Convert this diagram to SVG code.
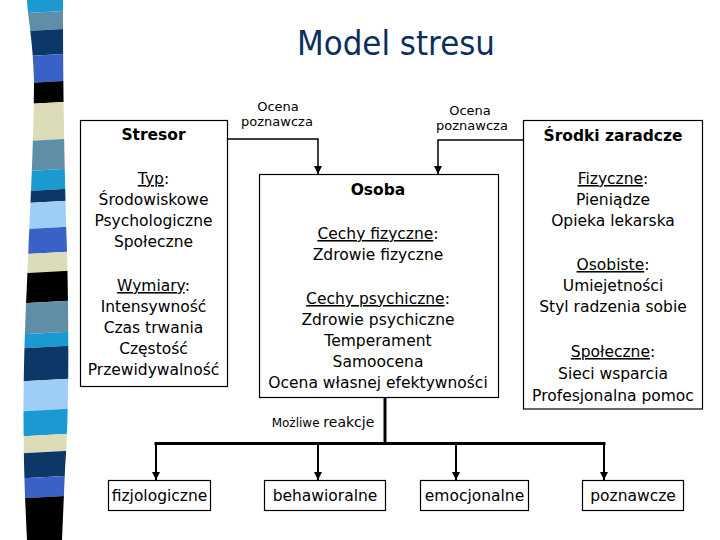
<svg xmlns="http://www.w3.org/2000/svg" width="720" height="540" viewBox="0 0 720 540">
<style>
.box{fill:#fff;stroke:#000;stroke-width:1.2}
.t{font-family:"DejaVu Sans","Liberation Sans",sans-serif;font-size:15.5px;fill:#000;text-anchor:middle}
.b{font-weight:bold}
.s{font-family:"DejaVu Sans","Liberation Sans",sans-serif;font-size:13px;fill:#000;text-anchor:middle}
.u{text-decoration:underline}
.ln{fill:none;stroke:#000}
</style>
<defs>
<clipPath id="band">
<path d="M27,0 L63,0 C63,80 64,150 67,250 C69,330 69,420 65,470 L62,540 L27,540 C24,480 22,420 25,330 C28,250 34,150 34,80 C33,40 28,20 27,0 Z"/>
</clipPath>
<marker id="ah" markerUnits="userSpaceOnUse" markerWidth="8" markerHeight="8" refX="8" refY="4" orient="auto">
<path d="M0,0 L8,4 L0,8 Z" fill="#000"/>
</marker>
</defs>
<rect width="720" height="540" fill="#fff"/>
<g id="stripes" clip-path="url(#band)">
<polygon fill="#1a9ad0" points="20,-5 72,-5 72,10.5 20,13.5"/>
<polygon fill="#5f8fa6" points="20,13.5 72,10.5 72,28.5 20,31.5"/>
<polygon fill="#0c3868" points="20,31.5 72,28.5 72,53.5 20,56.5"/>
<polygon fill="#3a62c6" points="20,56.5 72,53.5 72,80.5 20,83.5"/>
<polygon fill="#000000" points="20,83.5 72,80.5 72,101.5 20,104.5"/>
<polygon fill="#dcdcb8" points="20,104.5 72,101.5 72,138.5 20,141.5"/>
<polygon fill="#5f8fa6" points="20,141.5 72,138.5 72,168.5 20,171.5"/>
<polygon fill="#1a9ad0" points="20,171.5 72,168.5 72,188.5 20,191.5"/>
<polygon fill="#0c3868" points="20,191.5 72,188.5 72,200.5 20,203.5"/>
<polygon fill="#9ecdf5" points="20,203.5 72,200.5 72,226.5 20,229.5"/>
<polygon fill="#3a62c6" points="20,229.5 72,226.5 72,251.5 20,254.5"/>
<polygon fill="#dcdcb8" points="20,254.5 72,251.5 72,270.5 20,273.5"/>
<polygon fill="#000000" points="20,273.5 72,270.5 72,300.5 20,303.5"/>
<polygon fill="#5f8fa6" points="20,303.5 72,300.5 72,331.5 20,334.5"/>
<polygon fill="#1a9ad0" points="20,334.5 72,331.5 72,345.5 20,348.5"/>
<polygon fill="#0c3868" points="20,348.5 72,345.5 72,378.5 20,381.5"/>
<polygon fill="#9ecdf5" points="20,381.5 72,378.5 72,408.5 20,411.5"/>
<polygon fill="#1a9ad0" points="20,411.5 72,408.5 72,433.5 20,436.5"/>
<polygon fill="#dcdcb8" points="20,436.5 72,433.5 72,450.5 20,453.5"/>
<polygon fill="#0c3868" points="20,453.5 72,450.5 72,475.5 20,478.5"/>
<polygon fill="#3a62c6" points="20,478.5 72,475.5 72,495.5 20,498.5"/>
<polygon fill="#000000" points="20,498.5 72,495.5 72,545 20,545"/>
</g>
<text id="title" x="396" y="55" font-family="DejaVu Sans, Liberation Sans, sans-serif" font-size="34" fill="#0b2f5e" text-anchor="middle" textLength="198" lengthAdjust="spacingAndGlyphs">Model stresu</text>
<g id="connectors">
<path class="ln" stroke-width="1.5" d="M227,139 H318 V174" marker-end="url(#ah)"/>
<path class="ln" stroke-width="1.5" d="M523,140 H438 V174" marker-end="url(#ah)"/>
<path class="ln" stroke-width="3" d="M385,397 V444"/>
<path class="ln" stroke-width="3" d="M154.5,443.5 H605.5"/>
<path class="ln" stroke-width="2" d="M156,444 V480" marker-end="url(#ah)"/>
<path class="ln" stroke-width="2" d="M318,444 V480" marker-end="url(#ah)"/>
<path class="ln" stroke-width="2" d="M456,444 V480" marker-end="url(#ah)"/>
<path class="ln" stroke-width="2" d="M604,444 V480" marker-end="url(#ah)"/>
<text class="s" x="278" y="111">Ocena</text>
<text class="s" x="277" y="126">poznawcza</text>
<text class="s" x="470" y="115">Ocena</text>
<text class="s" x="472" y="130">poznawcza</text>
<text class="s" x="323" y="427"><tspan font-size="12">Możliwe </tspan><tspan font-size="14">reakcje</tspan></text>
</g>
<g id="stresor">
<rect class="box" x="80.5" y="120.5" width="147" height="266"/>
<text class="t b" x="153.5" y="140">Stresor</text>
<text class="t" x="153.5" y="184"><tspan class="u">Typ</tspan>:</text>
<text class="t" x="153.5" y="205">Środowiskowe</text>
<text class="t" x="153.5" y="226">Psychologiczne</text>
<text class="t" x="153.5" y="247">Społeczne</text>
<text class="t" x="153.5" y="291"><tspan class="u">Wymiary</tspan>:</text>
<text class="t" x="153.5" y="312">Intensywność</text>
<text class="t" x="153.5" y="333">Czas trwania</text>
<text class="t" x="153.5" y="354">Częstość</text>
<text class="t" x="153.5" y="375">Przewidywalność</text>
</g>
<g id="osoba">
<rect class="box" x="259.5" y="174.5" width="239" height="223"/>
<text class="t b" x="378" y="195">Osoba</text>
<text class="t" x="378" y="239"><tspan class="u">Cechy fizyczne</tspan>:</text>
<text class="t" x="378" y="260">Zdrowie fizyczne</text>
<text class="t" x="378" y="304"><tspan class="u">Cechy psychiczne</tspan>:</text>
<text class="t" x="378" y="325">Zdrowie psychiczne</text>
<text class="t" x="378" y="346">Temperament</text>
<text class="t" x="378" y="367">Samoocena</text>
<text class="t" x="378" y="388">Ocena własnej efektywności</text>
</g>
<g id="srodki">
<rect class="box" x="523.5" y="120.5" width="179" height="288.5"/>
<text class="t b" x="613" y="141">Środki zaradcze</text>
<text class="t" x="613" y="184"><tspan class="u">Fizyczne</tspan>:</text>
<text class="t" x="613" y="205">Pieniądze</text>
<text class="t" x="613" y="226">Opieka lekarska</text>
<text class="t" x="613" y="270"><tspan class="u">Osobiste</tspan>:</text>
<text class="t" x="613" y="291">Umiejetności</text>
<text class="t" x="613" y="312">Styl radzenia sobie</text>
<text class="t" x="613" y="357"><tspan class="u">Społeczne</tspan>:</text>
<text class="t" x="613" y="379">Sieci wsparcia</text>
<text class="t" x="613" y="401">Profesjonalna pomoc</text>
</g>
<g id="fizjologiczne">
<rect class="box" x="108.5" y="480.5" width="102" height="30"/>
<text class="t" x="159.5" y="501">fizjologiczne</text>
</g>
<g id="behawioralne">
<rect class="box" x="264.5" y="480.5" width="121" height="30"/>
<text class="t" x="325" y="501">behawioralne</text>
</g>
<g id="emocjonalne">
<rect class="box" x="420.5" y="480.5" width="108" height="30"/>
<text class="t" x="474.5" y="501">emocjonalne</text>
</g>
<g id="poznawcze">
<rect class="box" x="582.5" y="480.5" width="101" height="30"/>
<text class="t" x="633" y="501">poznawcze</text>
</g>
</svg>
